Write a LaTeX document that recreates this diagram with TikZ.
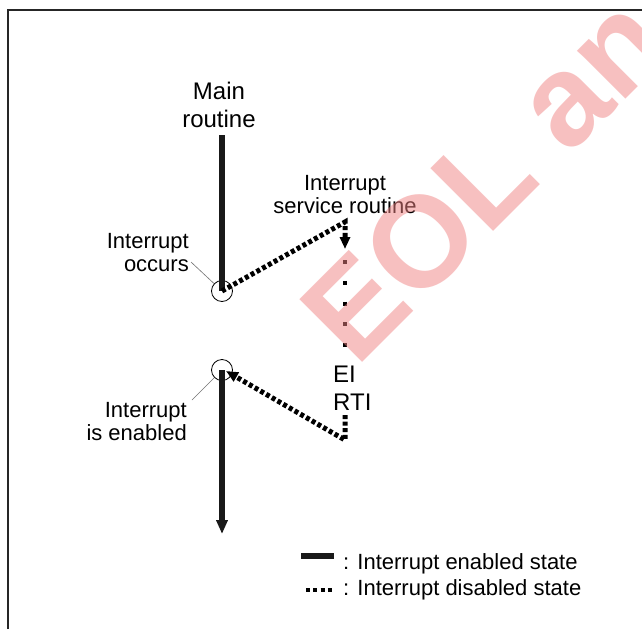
\documentclass[tikz,border=0pt]{standalone}
\usepackage{fontspec}
\setmainfont{Liberation Sans}
\usetikzlibrary{arrows.meta}
\definecolor{wmred}{RGB}{240,130,130}
\tikzset{
  enline/.style={line width=5.5pt, draw=black!90},
  disline/.style={line width=5pt, dash pattern=on 4pt off 2.6pt},
  sparsedots/.style={line width=4pt, dash pattern=on 4pt off 16.8pt},
  legdots/.style={line width=4pt, dash pattern=on 4pt off 3.3pt},
  ring/.style={circle, draw, line width=0.8pt, minimum size=21pt, inner sep=0pt},
  leader/.style={draw=black!55, line width=0.6pt},
  lbl/.style={font=\fontsize{22}{23}\selectfont, inner sep=0pt},
  bigl/.style={font=\fontsize{24}{27.5}\selectfont, inner sep=0pt},
  bigtip/.style={-{Triangle[width=11pt,length=14pt]}},
  smalltip/.style={-{Triangle[width=10pt,length=12pt]}},
  frameline/.style={line width=2.5pt, draw=black!85},
  wmark/.style={text=wmred, text opacity=0.5, font=\fontsize{129}{129}\selectfont\bfseries, inner sep=0pt}
}
\begin{document}
\begin{tikzpicture}[x=1pt,y=-1pt]
\useasboundingbox (0,0) rectangle (642,629);
\fill[white] (0,0) rectangle (642,629);
% frame
\draw[frameline] (8,629) -- (8,10) -- (642,10);

% circles
\node[ring] (c1) at (222,291) {};
\node[ring] (c2) at (222,370) {};

% coordinates
\coordinate (mtop) at (222,135);
\coordinate (isr) at (345,222);
\coordinate (isrtip) at (345,249);
\coordinate (dtop) at (345,260);
\coordinate (dbot) at (345,348);
\coordinate (rtibot) at (345,415);
\coordinate (rticorner) at (345,440);
\coordinate (c2tip) at (226,371);
\coordinate (mend) at (222,534);
\coordinate (lead1) at (191,262);
\coordinate (lead2) at (192,400);

% main routine lines
\draw[enline] (mtop) -- (c1.center);
\draw[enline, bigtip] (c2.center) -- (mend);

% interrupt service routine
\draw[disline, smalltip] (c1.center) -- (isr) -- (isrtip);
\draw[sparsedots] (dtop) -- (dbot);
\draw[disline, smalltip] (rtibot) -- (rticorner) -- (c2tip);

% leaders
\draw[leader] (lead1) -- (c1);
\draw[leader] (lead2) -- (c2);

% texts (base anchor = baseline of last line)
\node[bigl, align=center, anchor=base] (main) at (219,127) {Main\\routine};
\node[lbl, align=center, anchor=base] (isrlbl) at (345,213) {Interrupt\\service routine};
\node[lbl, align=right, anchor=base east] (occ) at (189,271) {Interrupt\\occurs};
\node[lbl, align=right, anchor=base east] (ena) at (187,440) {Interrupt\\is enabled};
\node[bigl, align=left, anchor=base west] (eirti) at (333,410) {EI\\RTI};

% legend
\coordinate (la) at (301,556);
\coordinate (lb) at (334,556);
\draw[enline] (la) -- (lb);
\node[lbl, anchor=base west] (leg1) at (343,569) {: Interrupt enabled state};
\coordinate (lc) at (306,590);
\coordinate (ld) at (332,590);
\draw[legdots] (lc) -- (ld);
\node[lbl, anchor=base west] (leg2) at (343,595) {: Interrupt disabled state};

% watermark
\begin{scope}
\clip (0,0) rectangle (642,629);
\node[wmark, rotate=45, anchor=base west] (wm) at (356,369) {EOL an};
\end{scope}
\end{tikzpicture}
\end{document}
